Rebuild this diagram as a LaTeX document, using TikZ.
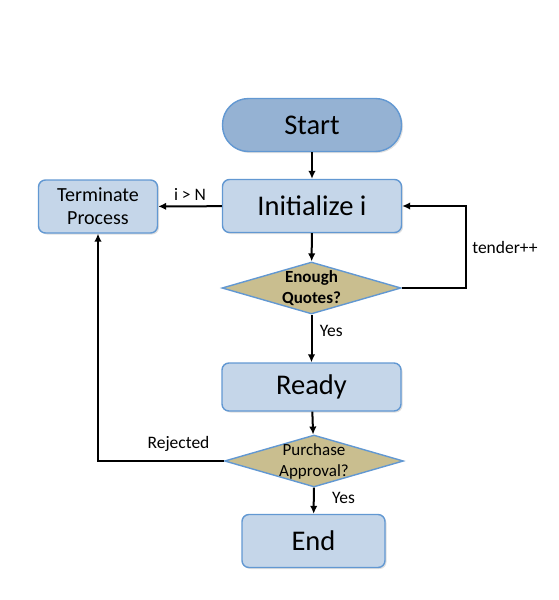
\documentclass[tikz,border=0pt]{standalone}
\usepackage{fontspec}
\setmainfont{Carlito}
\usetikzlibrary{shapes.geometric,shadows,arrows.meta}

\definecolor{boxfill}{RGB}{197,214,233}
\definecolor{startfill}{RGB}{149,178,211}
\definecolor{boxline}{RGB}{98,152,210}
\definecolor{decfill}{RGB}{201,190,143}

\begin{document}
\begin{tikzpicture}[x=1pt,y=-1pt,>={Latex[length=8pt,width=7.5pt]},
  box/.style={draw=boxline,fill=boxfill,line width=1.4pt,rounded corners=7pt,
    minimum width=179pt,minimum height=53pt,inner sep=0pt,
    drop shadow={opacity=0.25,shadow xshift=1.5pt,shadow yshift=-1.5pt},
    font=\fontsize{28.5}{32}\selectfont},
  startbox/.style={box,fill=startfill,rounded corners=26pt},
  dec/.style={diamond,draw=boxline,fill=decfill,line width=1.4pt,
    aspect=3.44,minimum width=179pt,minimum height=52pt,
    inner xsep=-10pt,inner ysep=-5pt,align=center,
    font=\fontsize{17}{21}\selectfont},
  lbl/.style={font=\fontsize{17.5}{20}\selectfont},
  conn/.style={->,line width=2pt}]
\useasboundingbox (0,0) rectangle (558,600);

\node[startbox] (start) at (312,125) {Start};
\node[box] (init) at (312,206) {Initialize i};
\node[box,minimum width=119pt,align=center,
  font=\fontsize{20}{23}\selectfont] (term) at (98,206.5) {Terminate\\Process};
\node[dec,font=\fontsize{17}{21}\selectfont\bfseries] (quotes) at (311.5,288) {Enough\\Quotes?};
\node[box,minimum height=48pt] (ready) at (311.5,387) {Ready};
\node[dec] (approve) at (314,461) {Purchase\\Approval?};
\node[box,minimum width=143pt] (end) at (313.5,541) {End};
\coordinate (loop) at (466,206);

\draw[conn] (start) -- (init);
\draw[conn] (init) -- node[lbl,above=1pt] (gtn) {i > N} (term);
\draw[conn] (init) -- (quotes);
\draw[conn] (quotes) -| node[lbl,right=2pt,pos=0.75] (incr) {tender++} (loop) -- (init);
\draw[conn] (quotes) -- node[lbl,right=4pt,pos=0.35] (yes1) {Yes} (ready);
\draw[conn] (ready) -- (approve);
\draw[conn] (approve) -| node[lbl,above=5pt,pos=0.18] (rej) {Rejected} (term);
\draw[conn] (approve) -- node[lbl,right=14pt,pos=0.4] (yes2) {Yes} (end);

\end{tikzpicture}
\end{document}
